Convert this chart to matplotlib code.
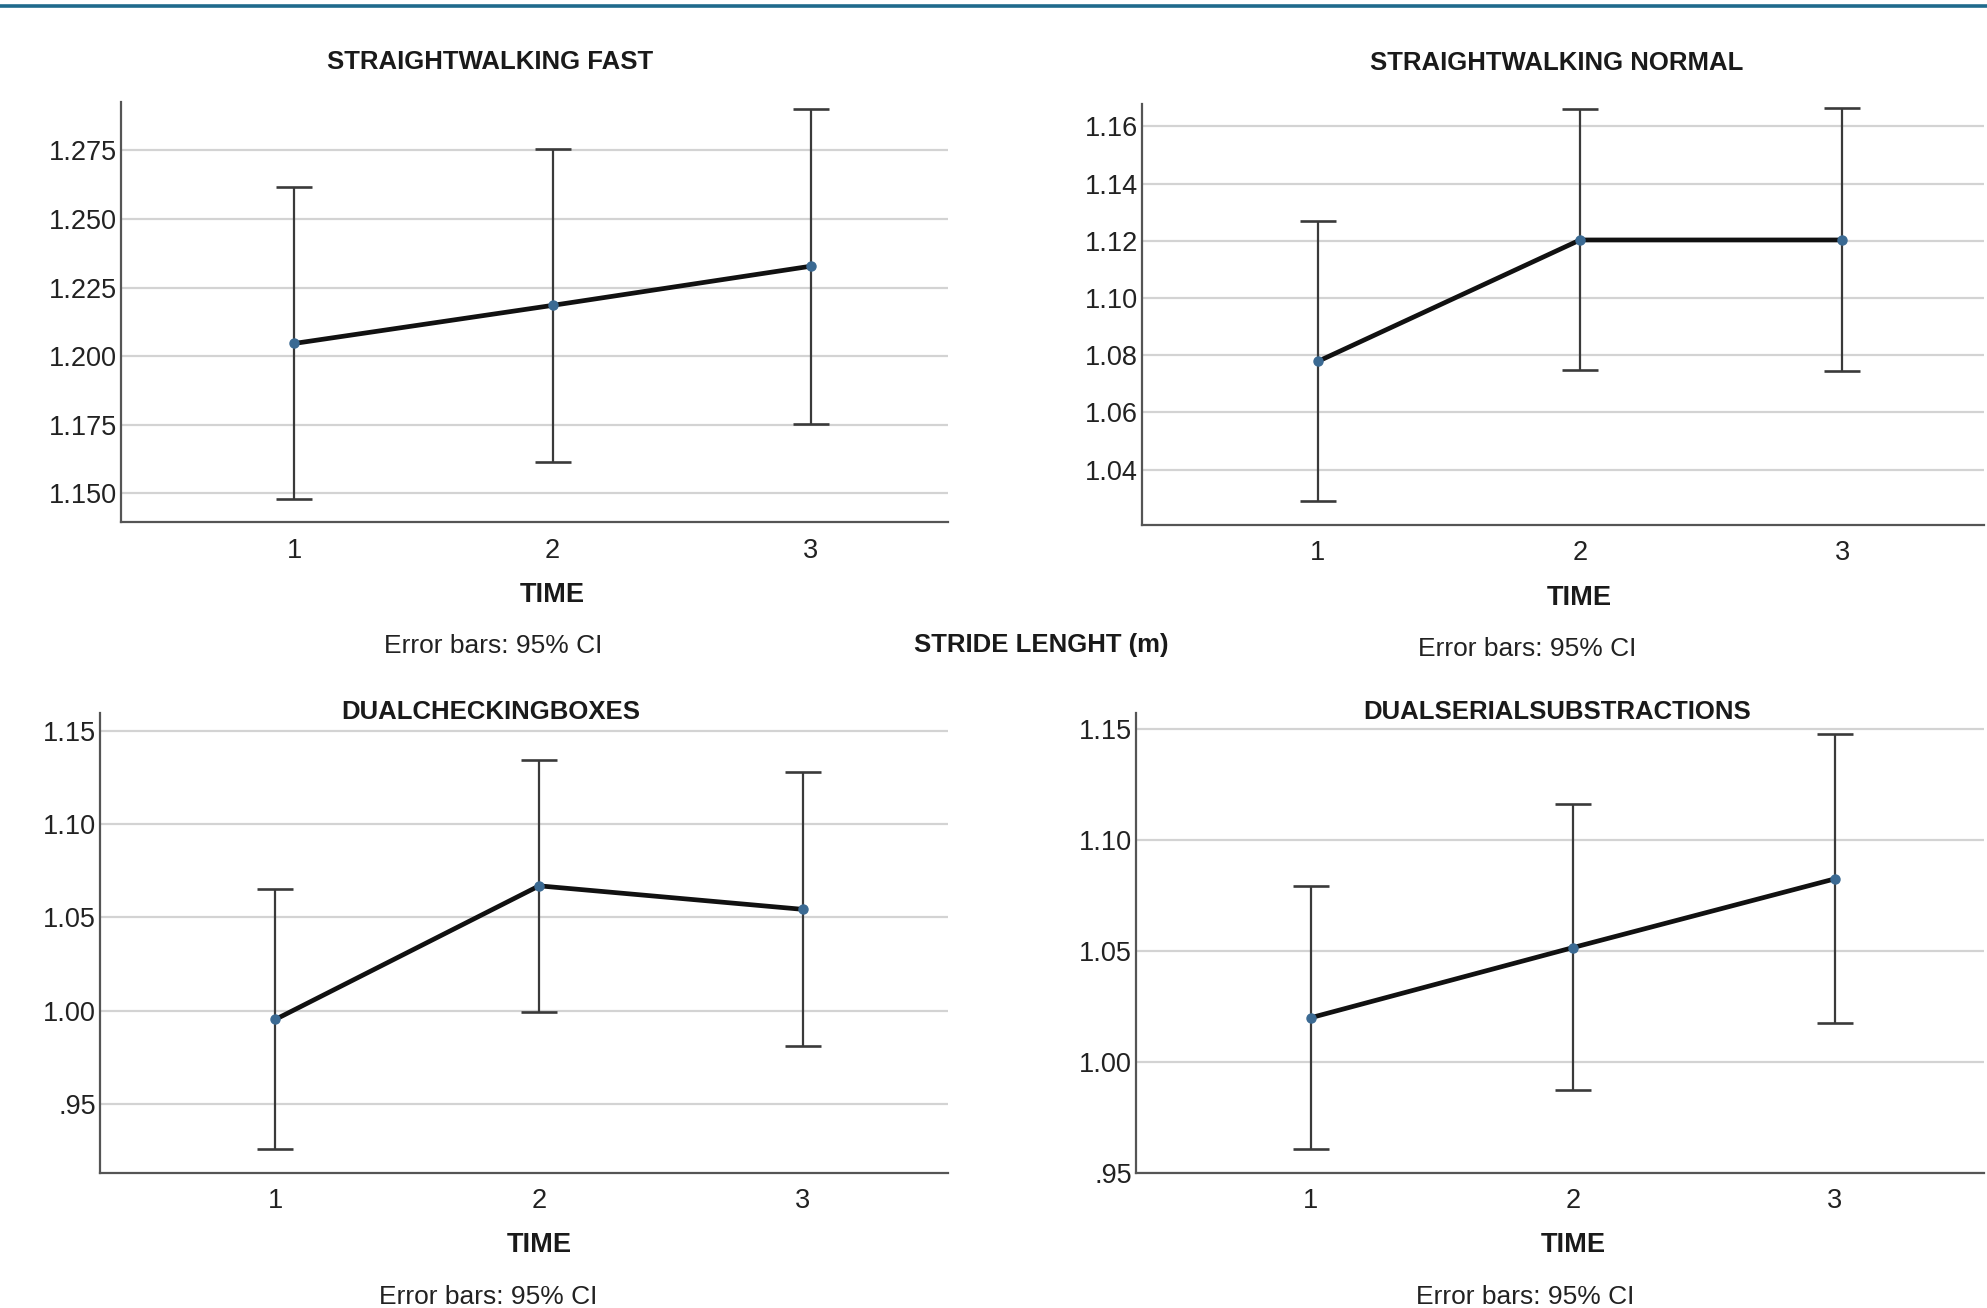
import matplotlib
matplotlib.use("Agg")
import matplotlib.pyplot as plt
from matplotlib.lines import Line2D

W, H = 1987, 1308

time_points = [1, 2, 3]
tick_labels_x = ["1", "2", "3"]

fast_mean = [1.2046, 1.2185, 1.2328]
fast_lo = [1.1480, 1.1612, 1.1752]
fast_hi = [1.2616, 1.2757, 1.2900]

normal_mean = [1.0778, 1.1203, 1.1203]
normal_lo = [1.0290, 1.0748, 1.0746]
normal_hi = [1.1270, 1.1662, 1.1665]

checking_mean = [0.9954, 1.0669, 1.0543]
checking_lo = [0.9260, 0.9993, 0.9813]
checking_hi = [1.0650, 1.1342, 1.1277]

serial_mean = [1.0200, 1.0516, 1.0826]
serial_lo = [0.9608, 0.9873, 1.0178]
serial_hi = [1.0793, 1.1163, 1.1478]

fast_yticks = [1.150, 1.175, 1.200, 1.225, 1.250, 1.275]
fast_ylabels = ["1.150", "1.175", "1.200", "1.225", "1.250", "1.275"]
normal_yticks = [1.04, 1.06, 1.08, 1.10, 1.12, 1.14, 1.16]
normal_ylabels = ["1.04", "1.06", "1.08", "1.10", "1.12", "1.14", "1.16"]
checking_yticks = [0.95, 1.00, 1.05, 1.10, 1.15]
checking_ylabels = [".95", "1.00", "1.05", "1.10", "1.15"]
serial_yticks = [0.95, 1.00, 1.05, 1.10, 1.15]
serial_ylabels = [".95", "1.00", "1.05", "1.10", "1.15"]

titles = ["STRAIGHTWALKING FAST", "STRAIGHTWALKING NORMAL",
          "DUALCHECKINGBOXES", "DUALSERIALSUBSTRACTIONS"]

REG = ["Liberation Sans Narrow", "Liberation Sans", "DejaVu Sans"]
BOLD = ["Liberation Sans", "DejaVu Sans"]


def fx(x):
    return x / W


def fy(y):
    return 1 - y / H


fig = plt.figure(figsize=(W / 100, H / 100), dpi=100)
fig.add_artist(Line2D([0, 1], [fy(5.5), fy(5.5)], color="#1f6a8c", lw=2.6))

panels = [
    dict(box=(121, 948, 102.5, 522.5), xlim=(0.33, 3.53), ylim=(1.1393, 1.2925),
         mean=fast_mean, lo=fast_lo, hi=fast_hi, yt=fast_yticks, yl=fast_ylabels,
         title=(490, 62), time=(552, 595), err=(493, 646)),
    dict(box=(1142, 1984, 103.6, 525), xlim=(0.33, 3.54), ylim=(1.0206, 1.168),
         mean=normal_mean, lo=normal_lo, hi=normal_hi, yt=normal_yticks, yl=normal_ylabels,
         title=(1557, 63), time=(1579, 598), err=(1527, 649)),
    dict(box=(100, 948, 713, 1173), xlim=(0.335, 3.55), ylim=(0.9132, 1.1594),
         mean=checking_mean, lo=checking_lo, hi=checking_hi, yt=checking_yticks, yl=checking_ylabels,
         title=(491, 712), time=(539, 1245), err=(488, 1297)),
    dict(box=(1136, 1984, 713, 1173), xlim=(0.333, 3.57), ylim=(0.95, 1.1574),
         mean=serial_mean, lo=serial_lo, hi=serial_hi, yt=serial_yticks, yl=serial_ylabels,
         title=(1557, 712), time=(1573, 1245), err=(1525, 1297)),
]

for i, p in enumerate(panels):
    l, r, t, b = p["box"]
    ax = fig.add_axes([fx(l), fy(b), (r - l) / W, (b - t) / H])
    ax.set_xlim(*p["xlim"])
    ax.set_ylim(*p["ylim"])
    ax.set_yticks(p["yt"])
    ax.set_yticklabels(p["yl"], family=REG, fontsize=19.5, color="#222222")
    ax.set_xticks(time_points)
    ax.set_xticklabels(tick_labels_x, family=REG, fontsize=19.5, color="#222222")
    ax.tick_params(axis="both", length=0)
    ax.tick_params(axis="y", pad=3)
    ax.tick_params(axis="x", pad=11)
    ax.grid(axis="y", color="#d3d3d3", lw=1.6, zorder=0)
    ax.set_axisbelow(True)
    for s in ("top", "right"):
        ax.spines[s].set_visible(False)
    for s in ("left", "bottom"):
        ax.spines[s].set_color("#555555")
        ax.spines[s].set_linewidth(1.6)
    m = p["mean"]
    yerr = [[m[k] - p["lo"][k] for k in range(3)], [p["hi"][k] - m[k] for k in range(3)]]
    ax.errorbar(time_points, m, yerr=yerr, fmt="none", ecolor="#3a3a3a",
                elinewidth=1.6, capsize=13, capthick=1.9, zorder=2)
    ax.plot(time_points, m, color="#111111", lw=3.4, zorder=3)
    ax.plot(time_points, m, "o", color="#3b6a93", ms=6.5, zorder=4)

    fig.text(fx(p["title"][0]), fy(p["title"][1]), titles[i], ha="center", va="center",
             family=BOLD, fontsize=18.5, fontweight="bold", color="#1a1a1a")
    fig.text(fx(p["time"][0]), fy(p["time"][1]), "TIME", ha="center", va="center",
             family=BOLD, fontsize=19.5, fontweight="bold", color="#1a1a1a")
    fig.text(fx(p["err"][0]), fy(p["err"][1]), "Error bars: 95% CI", ha="center", va="center",
             family=REG, fontsize=19, color="#222222")

fig.text(fx(1041), fy(645), "STRIDE LENGHT (m)", ha="center", va="center",
         family=BOLD, fontsize=18.5, fontweight="bold", color="#1a1a1a")

fig.savefig("out.png", dpi=100, facecolor="white")
